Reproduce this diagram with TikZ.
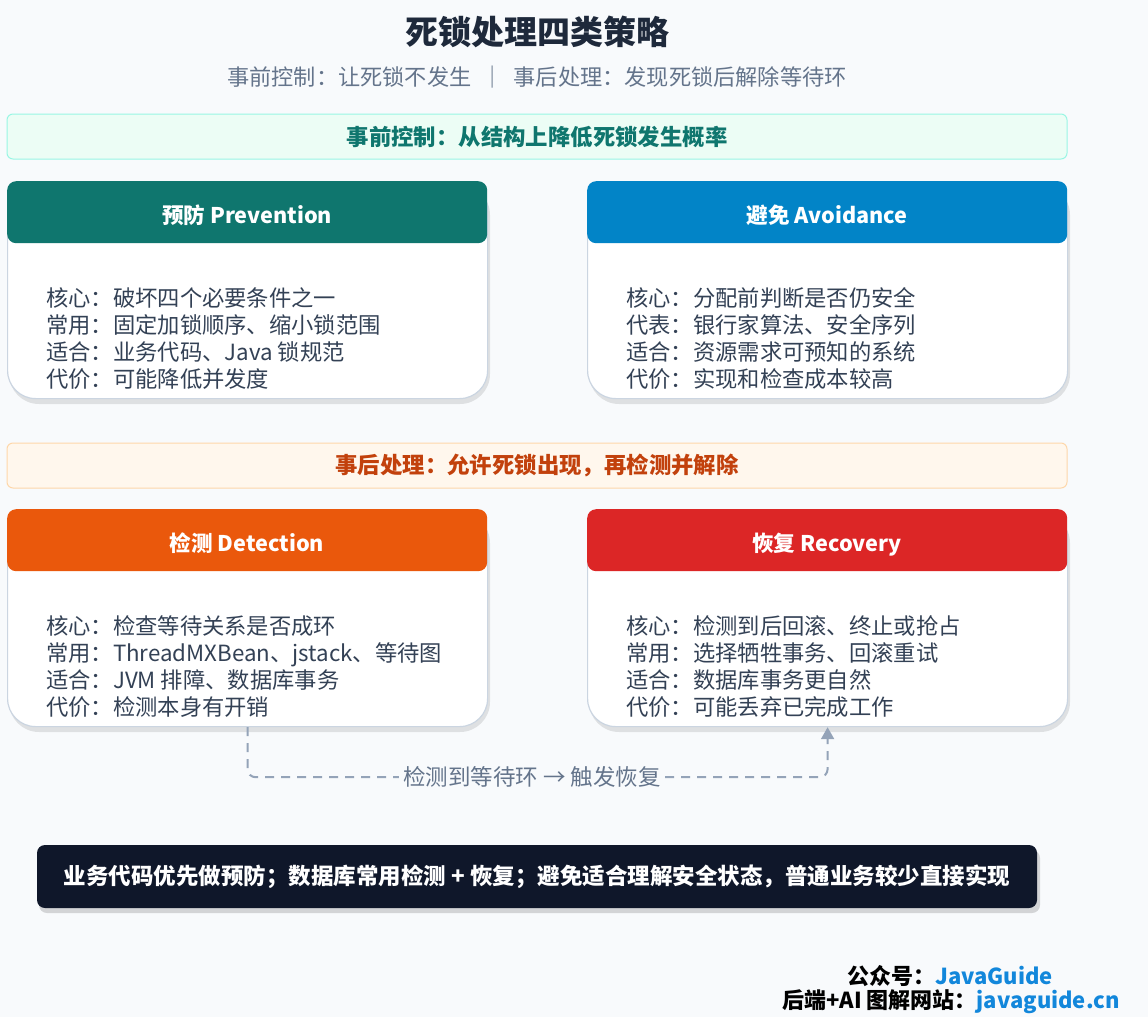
\documentclass[tikz,border=0pt]{standalone}
\usepackage{fontspec}
\setmainfont{Noto Sans CJK SC}
\usetikzlibrary{arrows.meta}
\definecolor{pagebg}{HTML}{F8FAFC}
\definecolor{titlec}{HTML}{1E293B}
\definecolor{subc}{HTML}{64748B}
\definecolor{greenbg}{HTML}{ECFDF5}
\definecolor{greenbd}{HTML}{99F6E4}
\definecolor{greentx}{HTML}{0F766E}
\definecolor{orangebg}{HTML}{FFF7ED}
\definecolor{orangebd}{HTML}{FED7AA}
\definecolor{orangetx}{HTML}{C2410C}
\definecolor{prevc}{HTML}{0F766E}
\definecolor{avoidc}{HTML}{0284C7}
\definecolor{detc}{HTML}{EA580C}
\definecolor{recc}{HTML}{DC2626}
\definecolor{cardbd}{HTML}{CBD5E1}
\definecolor{bodyc}{HTML}{334155}
\definecolor{connc}{HTML}{94A3B8}
\definecolor{darkbox}{HTML}{0F172A}
\definecolor{linkc}{HTML}{1287DB}
\tikzset{
  band/.style={rectangle, rounded corners=6pt, line width=1pt, minimum width=1060pt, minimum height=45pt, inner sep=0pt, font=\fontsize{22.4}{26}\selectfont\bfseries},
  cardbody/.style={rectangle, minimum width=480pt, minimum height=217pt, inner sep=0pt, fill=white, draw=cardbd, line width=1.2pt, rounded corners=28pt},
  cardhead/.style={rectangle, minimum width=480pt, minimum height=62pt, inner sep=0pt, rounded corners=9pt},
  cardtitle/.style={inner sep=0pt, anchor=base, text=white, font=\fontsize{21.6}{26}\selectfont\bfseries},
  cardtext/.style={align=left, inner sep=0pt, text=bodyc, font=\fontsize{22.3}{27}\selectfont},
  cardshadow/.style={fill=black, opacity=0.10, rounded corners=30pt},
  conn/.style={draw=connc, line width=2pt, dash pattern=on 9pt off 7pt, rounded corners=8pt},
}
\newcommand\strategycard[6]{%
  \fill[cardshadow] (#2+2,#3+4) rectangle (#2+483,#3+223);
  \node[cardbody, anchor=north west] (#1) at (#2,#3) {};
  \node[cardhead, fill=#4, anchor=north west] (#1-head) at (#2,#3) {};
  \node[cardtitle] (#1-title) at (#2+240,#3+42) {#5};
  \node[cardtext, anchor=west] (#1-body) at (#2+39,#3+157.5) {#6};
}
\begin{document}
\begin{tikzpicture}[x=1pt,y=-1pt]
\fill[pagebg] (0,0) rectangle (1148,1017);
\useasboundingbox (0,0) rectangle (1148,1017);

\node[font=\fontsize{33}{39}\selectfont\bfseries, text=titlec] (title) at (537,32) {死锁处理四类策略};
\node[font=\fontsize{22.2}{26}\selectfont, text=subc] (subtitle) at (537,77) {事前控制：让死锁不发生 \ ｜ \ 事后处理：发现死锁后解除等待环};

\node[band, fill=greenbg, draw=greenbd, text=greentx] (band1) at (537,136.5) {事前控制：从结构上降低死锁发生概率};

\strategycard{prev}{7}{181}{prevc}{预防 Prevention}{核心：破坏四个必要条件之一\\常用：固定加锁顺序、缩小锁范围\\适合：业务代码、Java 锁规范\\代价：可能降低并发度}
\strategycard{avoid}{587}{181}{avoidc}{避免 Avoidance}{核心：分配前判断是否仍安全\\代表：银行家算法、安全序列\\适合：资源需求可预知的系统\\代价：实现和检查成本较高}

\node[band, fill=orangebg, draw=orangebd, text=orangetx] (band2) at (537,465.5) {事后处理：允许死锁出现，再检测并解除};

\strategycard{det}{7}{509}{detc}{检测 Detection}{核心：检查等待关系是否成环\\常用：ThreadMXBean、jstack、等待图\\适合：JVM 排障、数据库事务\\代价：检测本身有开销}
\strategycard{rec}{587}{509}{recc}{恢复 Recovery}{核心：检测到后回滚、终止或抢占\\常用：选择牺牲事务、回滚重试\\适合：数据库事务更自然\\代价：可能丢弃已完成工作}

\draw[conn, -{Triangle[length=12pt,width=13pt]}] (det.south) -- ++(0,50) -| node[pos=0.245, fill=pagebg, inner sep=4pt, text=subc, font=\fontsize{22.5}{26}\selectfont] (trigger) {检测到等待环 → 触发恢复} (rec.south);

\fill[black, opacity=0.15, rounded corners=8pt] (39,850) rectangle (1040,913);
\node[rectangle, rounded corners=8pt, fill=darkbox, minimum width=1000pt, minimum height=63pt, text=white, font=\fontsize{22.5}{26}\selectfont\bfseries] (summary) at (537,876.5) {业务代码优先做预防；数据库常用检测 + 恢复；避免适合理解安全状态，普通业务较少直接实现};

\node[anchor=east, inner sep=0pt, font=\fontsize{22}{26}\selectfont\bfseries] (footer1) at (1053,976) {公众号：\textcolor{linkc}{JavaGuide}};
\node[anchor=east, inner sep=0pt, font=\fontsize{22}{26}\selectfont\bfseries] (footer2) at (1120,1002) {后端+AI 图解网站：\textcolor{linkc}{javaguide.cn}};
\end{tikzpicture}
\end{document}
